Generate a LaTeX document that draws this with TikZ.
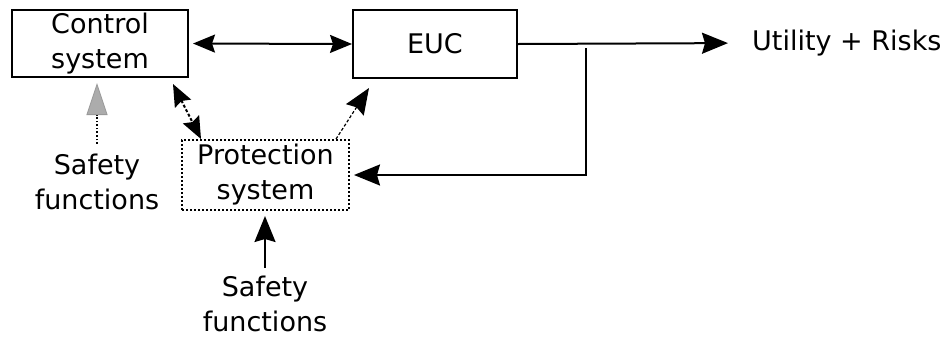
\documentclass[tikz,border=0pt]{standalone}
\usepackage{fontspec}
\setmainfont{DejaVu Sans}
\usetikzlibrary{arrows.meta,calc}
\tikzset{%
  blk/.style={draw, line width=2pt, inner sep=0pt, align=center},
  lbl/.style={inner sep=0pt, align=center},
  arr/.style={line width=2pt, -{Stealth[length=26pt,width=21pt,inset=3pt]}},
  dblarr/.style={line width=2pt, {Stealth[length=22pt,width=18pt,inset=3pt]}-{Stealth[length=22pt,width=18pt,inset=3pt]}},
  grayarr/.style={line width=1.6pt, dotted, -{Triangle[length=32pt,width=21pt,fill=gray!65,color=gray!80,line width=0.8pt]}},
}

\begin{document}
\begin{tikzpicture}[x=1pt, y=-1pt, font=\fontsize{27}{35}\selectfont]
    \useasboundingbox (0,0) rectangle (948,341);

    % the boxes
    \node[blk, minimum width=176pt, minimum height=67pt] (ctrl) at (100,43.5) {Control\\system};
    \node[blk, minimum width=164pt, minimum height=68pt] (euc) at (435,44) {EUC};
    \node[blk, dotted, minimum width=167pt, minimum height=70pt] (prot) at (265.5,175) {Protection\\system};

    % labels
    \node[lbl, anchor=west] (util) at (752,43) {Utility + Risks};
    \node[lbl] (safeA) at (97,182) {Safety\\functions};
    \node[lbl] (safeB) at (265,304) {Safety\\functions};
    \coordinate (tap) at (586,43);

    % control loop
    \draw[dblarr, shorten <=4pt] (ctrl.east) -- (euc.west);
    \draw[arr, shorten >=24pt] (euc.east) -- (util.west);

    % feedback to protection
    \draw[arr, shorten <=5pt, shorten >=4pt] (tap) |- (prot.east);
    \draw[dblarr, densely dashed] ([xshift=-16pt,yshift=-6pt]ctrl.south east) -- ([xshift=20pt]prot.north west);
    \draw[arr, line width=1.2pt, densely dashed] ([xshift=-14pt]prot.north east) -- ([xshift=17pt,yshift=-9pt]euc.south west);

    % safety functions
    \draw[grayarr, shorten <=10pt, shorten >=5pt] (safeA.north) -- (safeA.north |- ctrl.south);
    \draw[arr, shorten <=8pt, shorten >=5pt] (safeB.north) -- (safeB.north |- prot.south);

\end{tikzpicture}
\end{document}
